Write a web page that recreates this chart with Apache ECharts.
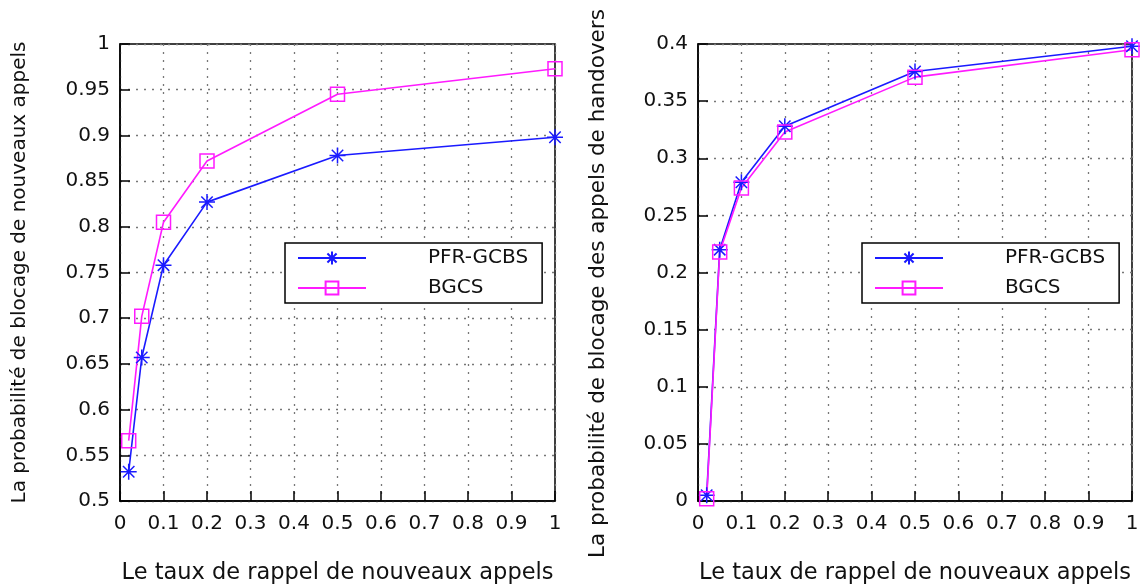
<!DOCTYPE html>
<html>
<head>
<meta charset="utf-8">
<script src="https://cdn.jsdelivr.net/npm/echarts@6/dist/echarts.min.js"></script>
<style>
html,body{margin:0;padding:0;background:#fff;}
#c{width:1142px;height:585px;}
</style>
</head>
<body>
<div id="c"></div>
<script>
// ---- data ----
const xValues = [0.02, 0.05, 0.1, 0.2, 0.5, 1.0];
const newCallsPFR = [0.532, 0.657, 0.758, 0.827, 0.878, 0.898];
const newCallsBGCS = [0.566, 0.702, 0.805, 0.872, 0.945, 0.973];
const handoverPFR = [0.005, 0.220, 0.279, 0.328, 0.376, 0.398];
const handoverBGCS = [0.002, 0.218, 0.274, 0.323, 0.371, 0.395];
const seriesNames = ['PFR-GCBS', 'BGCS'];
const xTitle = 'Le taux de rappel de nouveaux appels';
const yTitleLeft = 'La probabilité de blocage de nouveaux appels';
const yTitleRight = 'La probabilité de blocage des appels de handovers';

const FONT = 'DejaVu Sans';
const TXT = '#111';
const BLUE = '#1a1aff';
const MAG = '#ff1aff';
const STAR = 'path://M7 0 L7 14 M0 7 L14 7 M2 2 L12 12 M2 12 L12 2';
const SQUARE = 'path://M0 0 L14 0 L14 14 L0 14 Z';

function pairs(xs, ys) { return xs.map((x, i) => [x, ys[i]]); }

function xAxis(gi) {
  return {
    type: 'value', gridIndex: gi, min: 0, max: 1, interval: 0.1,
    name: xTitle, nameLocation: 'middle', nameGap: 61,
    nameTextStyle: { fontFamily: FONT, fontSize: 22.5, color: TXT },
    axisLine: { show: true, lineStyle: { color: '#000', width: 1.5 } },
    axisTick: { show: true, inside: true, length: 10, lineStyle: { color: '#000', width: 1.5 } },
    axisLabel: { fontFamily: FONT, fontSize: 20, color: TXT, margin: 13 },
    splitLine: { show: true, lineStyle: { color: '#777', type: [2, 6], width: 1.3 } }
  };
}
function yAxis(gi, max, title, gap, size, shift) {
  return {
    type: 'value', gridIndex: gi, min: max === 1 ? 0.5 : 0, max: max, interval: 0.05,
    name: title, nameLocation: 'middle', nameGap: gap,
    nameTextStyle: { fontFamily: FONT, fontSize: size, color: TXT, padding: [0, shift, 0, 0] },
    axisLine: { show: true, lineStyle: { color: '#000', width: 1.5 } },
    axisTick: { show: true, inside: true, length: 10, lineStyle: { color: '#000', width: 1.5 } },
    axisLabel: { fontFamily: FONT, fontSize: 20, color: TXT, margin: 10 },
    splitLine: { show: true, lineStyle: { color: '#777', type: [2, 6], width: 1.3 } }
  };
}
function series(name, xi, data, color, symbol, size) {
  return {
    type: 'line', name: name, xAxisIndex: xi, yAxisIndex: xi,
    data: data, symbol: symbol, symbolSize: size, symbolKeepAspect: true,
    clip: false, animation: false,
    lineStyle: { color: color, width: 1.6 },
    itemStyle: { color: 'rgba(0,0,0,0)', borderColor: color, borderWidth: 1.5 }
  };
}
function legend(left) {
  return {
    orient: 'vertical', left: left, top: 243,
    data: seriesNames,
    itemWidth: 68, itemHeight: 16, itemGap: 10,
    padding: [5, 14, 5, 12],
    borderColor: '#000', borderWidth: 1.5, borderRadius: 0,
    backgroundColor: '#fff',
    selectedMode: false,
    textStyle: { fontFamily: FONT, fontSize: 20, color: TXT, padding: [0, 0, 0, 57], lineHeight: 20 }
  };
}

const chart = echarts.init(document.getElementById('c'), null, { renderer: 'canvas' });
chart.setOption({
  animation: false,
  backgroundColor: '#fff',
  grid: [
    { left: 120, right: 1142 - 555, top: 44, bottom: 84, show: true, borderColor: '#000', borderWidth: 1.5, containLabel: false, outerBoundsMode: 'none' },
    { left: 698, right: 10, top: 44, bottom: 84, show: true, borderColor: '#000', borderWidth: 1.5, containLabel: false, outerBoundsMode: 'none' }
  ],
  xAxis: [xAxis(0), xAxis(1)],
  yAxis: [yAxis(0, 1, yTitleLeft, 90, 20, 0), yAxis(1, 0.4, yTitleRight, 89, 21.5, 22)],
  legend: [legend(285), legend(862)],
  series: [
    series(seriesNames[0], 0, pairs(xValues, newCallsPFR), BLUE, STAR, 16),
    series(seriesNames[1], 0, pairs(xValues, newCallsBGCS), MAG, SQUARE, 14),
    series(seriesNames[0], 1, pairs(xValues, handoverPFR), BLUE, STAR, 16),
    series(seriesNames[1], 1, pairs(xValues, handoverBGCS), MAG, SQUARE, 14)
  ]
});
</script>
</body>
</html>
